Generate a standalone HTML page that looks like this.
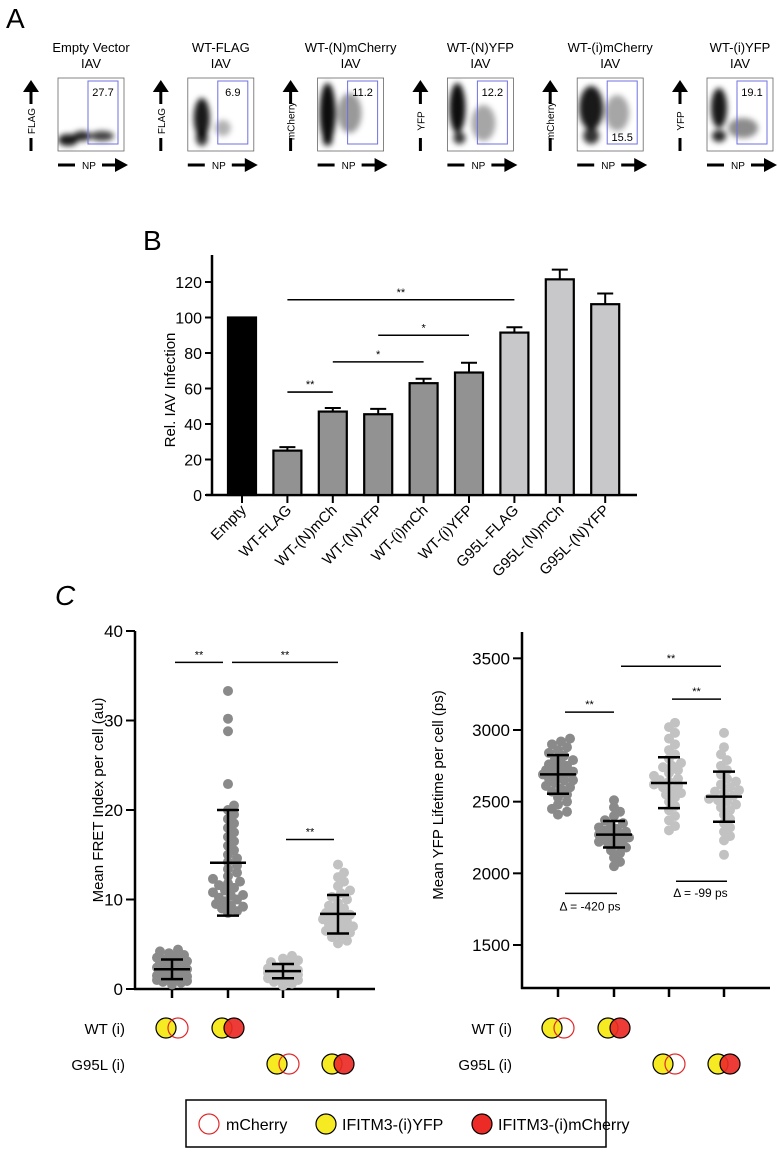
<!DOCTYPE html>
<html><head><meta charset="utf-8">
<style>
html,body{margin:0;padding:0;background:#fff;}
svg{display:block;font-family:"Liberation Sans",Arial,sans-serif;}
</style></head>
<body>
<svg id="fig" width="780" height="1152" viewBox="0 0 780 1152" xmlns="http://www.w3.org/2000/svg">
<defs>
<filter id="blur" x="-50%" y="-50%" width="200%" height="200%"><feGaussianBlur stdDeviation="3"/></filter>
<clipPath id="cpA"><rect x="0" y="0" width="66" height="73"/></clipPath>
</defs>
<text x="6" y="28" font-size="28">A</text>
<text x="143" y="250" font-size="28">B</text>
<text x="55" y="605" font-size="28" font-style="italic">C</text>
<g id="panelA"></g>
<g id="panelB"></g>
<g id="panelC1"></g>
<g id="panelC2"></g>
<g>
<rect x="186" y="1100" width="420" height="47" fill="none" stroke="#000" stroke-width="1.5"/>
<circle cx="209" cy="1124" r="10" fill="none" stroke="#e0282a" stroke-width="1.2"/>
<text x="226" y="1130" font-size="16">mCherry</text>
<circle cx="326" cy="1124" r="10" fill="#f6ea22" stroke="#000" stroke-width="1.2"/>
<text x="342" y="1130" font-size="16">IFITM3-(i)YFP</text>
<circle cx="482" cy="1124" r="10" fill="#ec2b27" stroke="#000" stroke-width="1.2"/>
<text x="498" y="1130" font-size="16">IFITM3-(i)mCherry</text>
</g>
</svg>
<script>
const NS="http://www.w3.org/2000/svg";
function mk(parent,tag,attrs,text){const e=document.createElementNS(NS,tag);for(const k in attrs)e.setAttribute(k,attrs[k]);if(text!==undefined)e.textContent=text;parent.appendChild(e);return e;}

/* ---------- Panel A data ---------- */
const aTitles=["Empty Vector","WT-FLAG","WT-(N)mCherry","WT-(N)YFP","WT-(i)mCherry","WT-(i)YFP"];
const aYLabels=["FLAG","FLAG","mCherry","YFP","mCherry","YFP"];
const aGates=["27.7","6.9","11.2","12.2","15.5","19.1"];
const aGateTop=[true,true,true,true,false,true];

/* ---------- Panel B data ---------- */
const bCats=["Empty","WT-FLAG","WT-(N)mCh","WT-(N)YFP","WT-(i)mCh","WT-(i)YFP","G95L-FLAG","G95L-(N)mCh","G95L-(N)YFP"];
const bVals=[100,25,47,45.5,63,69,91.5,121.5,107.5];
const bErr=[0,2,2,3,2.5,5.5,3,5.5,6];
const bGroup=[0,1,1,1,1,1,2,2,2];
const bTicks=[0,20,40,60,80,100,120];
const bSig=[[1,6,110,"**"],[3,5,90,"*"],[2,4,75,"*"],[1,2,58,"**"]];

/* ---------- Panel C data ---------- */
const c1Ticks=[0,10,20,30,40];
const c1G1=[0.5,0.7,0.9,1.0,1.1,1.2,1.3,1.4,1.5,1.6,1.7,1.8,1.9,2.0,2.0,2.1,2.2,2.3,2.4,2.5,2.6,2.7,2.8,2.9,3.0,3.1,3.2,3.3,3.5,3.6,3.8,4.0,4.2,4.4,1.2,2.2,2.8,0.8];
const c1G2=[8.5,8.7,9.0,9.2,9.5,9.8,10.0,10.2,10.5,10.8,11.0,11.3,11.6,12.0,12.3,12.6,13.0,13.4,13.8,14.2,14.6,15.0,15.5,16.0,16.5,17.0,17.5,18.0,18.5,19.0,19.5,20.0,20.5,22.9,28.8,30.2,33.3,9.3,10.4,11.8];
const c1G3=[0.4,0.6,0.8,1.0,1.1,1.2,1.3,1.5,1.6,1.7,1.8,1.9,2.0,2.1,2.2,2.3,2.4,2.5,2.6,2.8,3.0,3.2,3.4,3.7,1.4,2.0];
const c1G4=[5.1,5.4,5.8,6.0,6.3,6.5,6.8,7.0,7.2,7.5,7.8,8.0,8.2,8.5,8.8,9.0,9.3,9.6,10.0,10.3,10.7,11.0,11.5,12.0,12.5,13.0,13.9,7.4,8.3,6.6];
const c1Mean=[2.2,14.1,2.0,8.4];
const c1Lo=[1.1,8.2,1.2,6.2];
const c1Hi=[3.3,20.0,2.8,10.5];
const c1Sig=[[0,1,36.5,"**"],[1,3,36.5,"**"],[2,3,16.7,"**"]];

const c2Ticks=[1500,2000,2500,3000,3500];
const c2G1=[2410,2430,2450,2480,2500,2530,2550,2570,2590,2610,2630,2650,2660,2680,2690,2700,2710,2720,2740,2750,2770,2790,2800,2820,2840,2860,2880,2900,2920,2940,2600,2700,2760,2650,2720];
const c2G2=[2050,2080,2110,2140,2160,2180,2200,2210,2230,2240,2250,2260,2270,2280,2290,2300,2310,2330,2350,2370,2400,2430,2460,2510,2220,2270,2320];
const c2G3=[2300,2330,2370,2400,2440,2470,2500,2530,2560,2580,2600,2620,2640,2660,2680,2700,2720,2740,2770,2800,2830,2860,2900,2940,2980,3020,3050,2550,2650,2750,2610];
const c2G4=[2130,2230,2260,2290,2320,2350,2380,2410,2440,2460,2480,2500,2520,2540,2560,2580,2600,2620,2640,2660,2690,2720,2750,2790,2830,2880,2980,2510,2570];
const c2Mean=[2690,2270,2630,2535];
const c2Lo=[2555,2180,2455,2360];
const c2Hi=[2825,2365,2810,2710];
const c2Sig=[[0,1,3125,"**"],[1,3,3445,"**"],[2,3,3215,"**"]];
const c2Delta=[[0,1,1860,"Δ = -420 ps"],[2,3,1945,"Δ = -99 ps"]];

/* ---------- Panel A render ---------- */
(function(){
  const g=document.getElementById('panelA');
  const blobs=[
    [[10,62,10,6,0.9],[24,58,9,5,0.85],[44,58,12,5,0.75]],
    [[14,40,8,20,0.9],[14,60,6,8,0.8],[35,50,8,8,0.3]],
    [[10,35,8,30,0.95],[32,35,12,20,0.4],[10,62,5,6,0.8]],
    [[10,30,8,25,0.95],[12,60,6,6,0.8],[36,45,12,18,0.35]],
    [[14,30,12,22,0.9],[14,58,8,8,0.8],[40,35,12,18,0.35]],
    [[12,30,8,20,0.9],[12,58,7,6,0.85],[36,50,15,10,0.45]]
  ];
  aTitles.forEach((t,i)=>{
    const bx=58+i*129.8, by=78;
    const pg=mk(g,'g',{transform:`translate(${bx},${by})`});
    
    
    const tt=mk(g,'text',{x:bx+33,y:52,'font-size':13,'text-anchor':'middle'},t);
    
    
    const t2=mk(g,'text',{x:bx+33,y:68,'font-size':13,'text-anchor':'middle'},'IAV');
    
    
    const cg=mk(pg,'g',{'clip-path':'url(#cpA)',filter:'url(#blur)'});
    blobs[i].forEach(b=>mk(cg,'ellipse',{cx:b[0],cy:b[1],rx:b[2],ry:b[3],fill:'#000','fill-opacity':b[4]}));
    mk(pg,'rect',{x:0,y:0,width:66,height:73,fill:'none',stroke:'#666','stroke-width':0.8});
    mk(pg,'rect',{x:30,y:3,width:30,height:63,fill:'none',stroke:'#7070e0','stroke-width':1});
    const gt=mk(pg,'text',{x:45,y:aGateTop[i]?18:63,'font-size':11,'text-anchor':'middle'},aGates[i]);
    
    
    mk(g,'polygon',{points:`${bx-27},${by+2} ${bx-35},${by+14} ${bx-19},${by+14}`,fill:'#000'});
    mk(g,'line',{x1:bx-27,y1:by+14,x2:bx-27,y2:by+26,stroke:'#000','stroke-width':3});
    mk(g,'line',{x1:bx-27,y1:by+60,x2:bx-27,y2:by+73,stroke:'#000','stroke-width':3});
    const yl=mk(g,'text',{x:0,y:0,'font-size':10,'text-anchor':'middle',transform:`translate(${bx-23},${by+43}) rotate(-90)`},aYLabels[i]);
    
    
    mk(g,'line',{x1:bx,y1:165,x2:bx+17,y2:165,stroke:'#000','stroke-width':3});
    mk(g,'line',{x1:bx+44,y1:165,x2:bx+58,y2:165,stroke:'#000','stroke-width':3});
    mk(g,'polygon',{points:`${bx+70},165 ${bx+57},158 ${bx+57},172`,fill:'#000'});
    const xl=mk(g,'text',{x:bx+31,y:169,'font-size':10,'text-anchor':'middle'},'NP');
    
    
  });
})();

/* ---------- Panel B render ---------- */
(function(){
  const g=document.getElementById('panelB');
  const x0=212, xEnd=637, y0=495, pxPer=(495-282)/120;
  const Y=v=>y0-v*pxPer;
  const X=i=>242+i*45.4;
  const cols=['#000','#929292','#c8c8ca'];
  const ax=mk(g,'line',{x1:x0,y1:255,x2:x0,y2:y0+1,stroke:'#000','stroke-width':2.5});
  
  const axx=mk(g,'line',{x1:x0-6,y1:y0,x2:xEnd,y2:y0,stroke:'#000','stroke-width':2.5});
  
  bTicks.forEach(t=>{
    mk(g,'line',{x1:x0-7,y1:Y(t),x2:x0,y2:Y(t),stroke:'#000','stroke-width':2});
    const tl=mk(g,'text',{x:x0-10,y:Y(t)+6,'font-size':16,'text-anchor':'end'},t);
    
  });
  const yt=mk(g,'text',{x:0,y:0,'font-size':15,'text-anchor':'middle',transform:`translate(175,390) rotate(-90)`},'Rel. IAV Infection');
  
  bCats.forEach((c,i)=>{
    const cx=X(i);
    if(bErr[i]>0){
      mk(g,'line',{x1:cx,y1:Y(bVals[i]),x2:cx,y2:Y(bVals[i]+bErr[i]),stroke:'#000','stroke-width':2});
      mk(g,'line',{x1:cx-8,y1:Y(bVals[i]+bErr[i]),x2:cx+8,y2:Y(bVals[i]+bErr[i]),stroke:'#000','stroke-width':2});
    }
    const r=mk(g,'rect',{x:cx-14,y:Y(bVals[i]),width:28,height:Y(0)-Y(bVals[i]),fill:cols[bGroup[i]],stroke:'#000','stroke-width':2.2});
    
    
    mk(g,'line',{x1:cx,y1:y0,x2:cx,y2:y0+8,stroke:'#000','stroke-width':2});
    const tl=mk(g,'text',{x:0,y:0,'font-size':15,'text-anchor':'end',transform:`translate(${cx+5},${y0+16}) rotate(-45)`},c);
    
  });
  bSig.forEach((s,k)=>{
    const l=mk(g,'line',{x1:X(s[0]),y1:Y(s[2]),x2:X(s[1]),y2:Y(s[2]),stroke:'#000','stroke-width':1.6});
    
    const t=mk(g,'text',{x:(X(s[0])+X(s[1]))/2,y:Y(s[2])-4,'font-size':11,'text-anchor':'middle'},s[3]);
    
  });
})();

/* ---------- Panel C helpers ---------- */
function swarm(vals,Y,cx,maxHalf){
  const placed=[];const out=[];
  const steps=[];for(let o=0;o<=maxHalf;o+=3){steps.push(o);if(o)steps.push(-o);}
  [...vals].sort((a,b)=>a-b).forEach(v=>{
    const y=Y(v);let best=cx,bestD=-1;
    for(const off of steps){
      let d=Infinity;placed.forEach(p=>{d=Math.min(d,Math.hypot(p[0]-(cx+off),p[1]-y));});
      if(d>=7){best=cx+off;bestD=d;break;}
      if(d>bestD){bestD=d;best=cx+off;}
    }
    placed.push([best,y]);out.push([best,y]);
  });
  return out;
}
function pictos(g,cx,cy,fused,name){
  const yc=mk(g,'circle',{cx:cx-6,cy:cy,r:10,fill:'#f6ea22',stroke:'#000','stroke-width':1.2});
  
  const rc=mk(g,'circle',{cx:cx+6,cy:cy,r:10,fill:fused?'#ec2b27':'none','fill-opacity':fused?0.92:0,stroke:fused?'#000':'#e0282a','stroke-width':1.2});
  
}
function dotPanel(g,cfg){
  const {x0,xEnd,yTop,y0,vMin,pxPer,ticks,groups,mean,lo,hi,sig,xs,cols,title,titleX,titleY,prefix,rowX}=cfg;
  const Y=v=>y0-(v-vMin)*pxPer;
  const a=mk(g,'line',{x1:x0,y1:yTop,x2:x0,y2:y0+1,stroke:'#000','stroke-width':2.5});
  
  const b=mk(g,'line',{x1:x0-1,y1:y0,x2:xEnd,y2:y0,stroke:'#000','stroke-width':2.5});
  
  ticks.forEach(t=>{
    mk(g,'line',{x1:x0-9,y1:Y(t),x2:x0,y2:Y(t),stroke:'#000','stroke-width':2});
    const tl=mk(g,'text',{x:x0-12,y:Y(t)+6,'font-size':17,'text-anchor':'end'},t);
    
  });
  const yt=mk(g,'text',{x:0,y:0,'font-size':15,'text-anchor':'middle',transform:`translate(${titleX},${titleY}) rotate(-90)`},title);
  
  groups.forEach((vals,i)=>{
    const cx=xs[i];
    mk(g,'line',{x1:cx,y1:y0,x2:cx,y2:y0+9,stroke:'#000','stroke-width':2.5});
    const dg=mk(g,'g',{});
    
    swarm(vals,Y,cx,15).forEach(p=>mk(dg,'circle',{cx:p[0],cy:p[1],r:5,fill:cols[i]}));
    mk(g,'line',{x1:cx,y1:Y(lo[i]),x2:cx,y2:Y(hi[i]),stroke:'#000','stroke-width':2.5});
    mk(g,'line',{x1:cx-11,y1:Y(lo[i]),x2:cx+11,y2:Y(lo[i]),stroke:'#000','stroke-width':2.5});
    mk(g,'line',{x1:cx-11,y1:Y(hi[i]),x2:cx+11,y2:Y(hi[i]),stroke:'#000','stroke-width':2.5});
    const m=mk(g,'line',{x1:cx-18,y1:Y(mean[i]),x2:cx+18,y2:Y(mean[i]),stroke:'#000','stroke-width':2.5});
    
  });
  sig.forEach((s,k)=>{
    const xa=xs[s[0]]+cfg.sigPad[k][0], xb=xs[s[1]]+cfg.sigPad[k][1];
    const l=mk(g,'line',{x1:xa,y1:Y(s[2]),x2:xb,y2:Y(s[2]),stroke:'#000','stroke-width':1.5});
    
    const t=mk(g,'text',{x:(xa+xb)/2,y:Y(s[2])-4,'font-size':11,'text-anchor':'middle'},s[3]);
    
  });
  const w1=mk(g,'text',{x:rowX,y:1034,'font-size':15,'text-anchor':'end'},'WT (i)');
  
  const w2=mk(g,'text',{x:rowX,y:1070,'font-size':15,'text-anchor':'end'},'G95L (i)');
  
  pictos(g,xs[0],1028,false,prefix+'-wt-control');
  pictos(g,xs[1],1028,true,prefix+'-wt-fret');
  pictos(g,xs[2],1064,false,prefix+'-g95l-control');
  pictos(g,xs[3],1064,true,prefix+'-g95l-fret');
  return Y;
}

/* ---------- Panel C render ---------- */
(function(){
  const g=document.getElementById('panelC1');
  dotPanel(g,{x0:135,xEnd:375,yTop:631,y0:989,vMin:0,pxPer:(989-631)/40,ticks:c1Ticks,
    groups:[c1G1,c1G2,c1G3,c1G4],mean:c1Mean,lo:c1Lo,hi:c1Hi,sig:c1Sig,
    sigPad:[[3,-5],[4,0],[3,-4]],
    xs:[172,228,283,338],cols:['#8a8a8a','#8a8a8a','#c2c2c2','#c2c2c2'],
    title:'Mean FRET Index per cell (au)',titleX:103,titleY:800,prefix:'c-fret',rowX:125});
  const g2=document.getElementById('panelC2');
  const Y=dotPanel(g2,{x0:522,xEnd:770,yTop:632,y0:988,vMin:1200,pxPer:(882-667)/1500,ticks:c2Ticks,
    groups:[c2G1,c2G2,c2G3,c2G4],mean:c2Mean,lo:c2Lo,hi:c2Hi,sig:c2Sig,
    sigPad:[[7,0],[7,-3],[3,-3]],
    xs:[558,614,669,724],cols:['#8a8a8a','#8a8a8a','#c2c2c2','#c2c2c2'],
    title:'Mean YFP Lifetime per cell (ps)',titleX:443,titleY:795,prefix:'c-lifetime',rowX:512});
  const xs=[558,614,669,724];
  c2Delta.forEach((d,k)=>{
    const l=mk(g2,'line',{x1:xs[d[0]]+7,y1:Y(d[2]),x2:xs[d[1]]+3,y2:Y(d[2]),stroke:'#000','stroke-width':1.5});
    
    const t=mk(g2,'text',{x:(xs[d[0]]+xs[d[1]])/2+4,y:Y(d[2])+(k===0?17:16),'font-size':12,'text-anchor':'middle'},d[3]);
    
  });
})();
</script>
</body></html>
